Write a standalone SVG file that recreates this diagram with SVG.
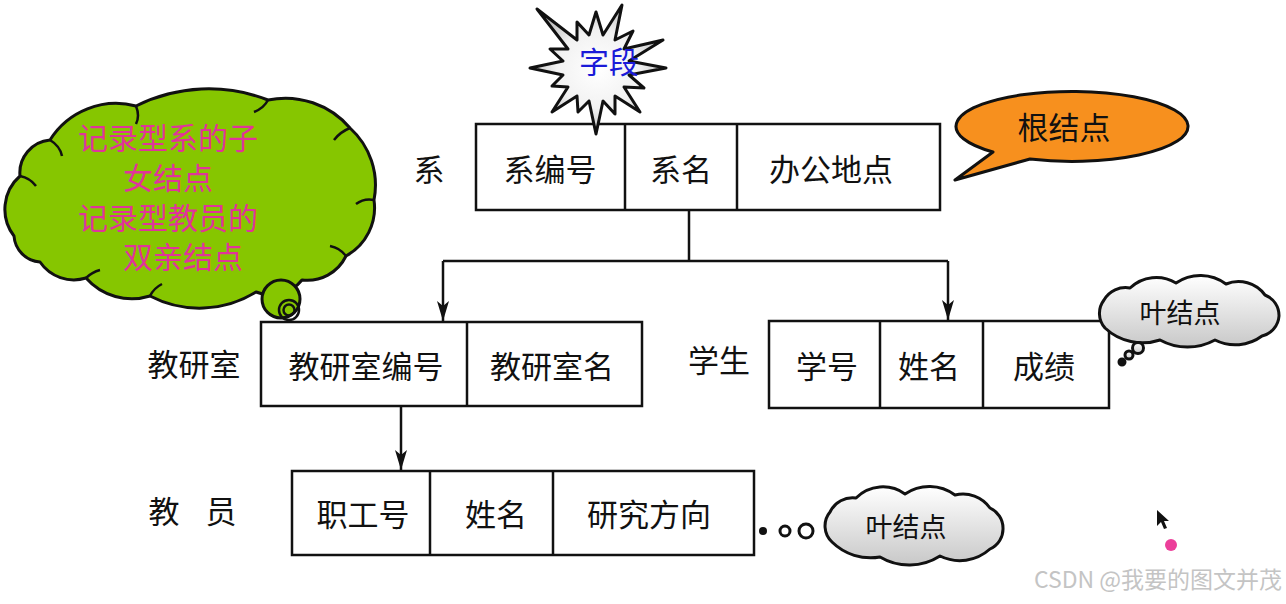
<svg xmlns="http://www.w3.org/2000/svg" width="1286" height="604" viewBox="0 0 1286 604">
<style>
.box{fill:#fff;stroke:#111;stroke-width:2.5}
.div{stroke:#111;stroke-width:2.5}
.t{font-family:"Noto Sans CJK SC","Noto Sans",sans-serif;font-size:31px;fill:#111;text-anchor:middle}
.g{font-family:"Noto Sans CJK SC","Noto Sans",sans-serif;font-size:30px;fill:#e0349a;text-anchor:middle}
.leaf{font-family:"Noto Sans CJK SC","Noto Sans",sans-serif;font-size:27px;fill:#111;text-anchor:middle}
.cl{stroke:#111;stroke-width:3;stroke-linejoin:round}
.conn{fill:none;stroke:#111;stroke-width:2.5}
</style>
<defs>
<marker id="arr" viewBox="0 0 20 12" refX="20" refY="6" markerWidth="20" markerHeight="12" markerUnits="userSpaceOnUse" orient="auto">
<path d="M0,0 L20,6 L0,12 L5,6 Z" fill="#111"/>
</marker>
<radialGradient id="star" cx="0.5" cy="0.5" r="0.6">
<stop offset="0" stop-color="#ffffff"/><stop offset="0.5" stop-color="#f2f2f2"/><stop offset="1" stop-color="#a8a8a8"/>
</radialGradient>
<linearGradient id="cloudg" x1="0" y1="0" x2="0" y2="1">
<stop offset="0" stop-color="#ffffff"/><stop offset="1" stop-color="#c8c8c8"/>
</linearGradient>
</defs>
<rect width="1286" height="604" fill="#fff"/>

<g id="connectors">
<path class="conn" d="M689,210 V261 M443,261 H948"/>
<path class="conn" d="M443,261 V321" marker-end="url(#arr)"/>
<path class="conn" d="M948,261 V320" marker-end="url(#arr)"/>
<path class="conn" d="M401,406 V470" marker-end="url(#arr)"/>
</g>

<g id="node-xi">
<text class="t" x="429" y="181">系</text>
<rect class="box" x="476" y="124" width="464" height="86"/>
<line class="div" x1="625" y1="124" x2="625" y2="210"/>
<line class="div" x1="737" y1="124" x2="737" y2="210"/>
<text class="t" x="550" y="181">系编号</text>
<text class="t" x="681" y="181">系名</text>
<text class="t" x="831" y="181">办公地点</text>
</g>

<g id="node-jiaoyanshi">
<text class="t" x="194" y="376">教研室</text>
<rect class="box" x="261" y="322" width="381" height="84"/>
<line class="div" x1="467" y1="322" x2="467" y2="406"/>
<text class="t" x="366" y="378">教研室编号</text>
<text class="t" x="552" y="378">教研室名</text>
</g>

<g id="node-xuesheng">
<text class="t" x="719" y="372">学生</text>
<rect class="box" x="769" y="321" width="340" height="87"/>
<line class="div" x1="880" y1="321" x2="880" y2="408"/>
<line class="div" x1="983" y1="321" x2="983" y2="408"/>
<text class="t" x="827" y="378">学号</text>
<text class="t" x="929" y="378">姓名</text>
<text class="t" x="1044" y="378">成绩</text>
</g>

<g id="node-jiaoyuan">
<text class="t" x="164" y="523">教</text>
<text class="t" x="221" y="523">员</text>
<rect class="box" x="292" y="471" width="462" height="84"/>
<line class="div" x1="430" y1="471" x2="430" y2="555"/>
<line class="div" x1="553" y1="471" x2="553" y2="555"/>
<text class="t" x="363" y="526">职工号</text>
<text class="t" x="496" y="526">姓名</text>
<text class="t" x="649" y="526">研究方向</text>
</g>

<g id="callout-ziduan">
<polygon class="cl" fill="url(#star)" points="666,68 629,75 644,88 624,87 640,112 615,96 615,114 603,101 596,134 589,101 578,112 577,96 552,112 568,87 552,86 563,75 530,68 563,61 550,49 568,49 537,9 577,40 577,22 589,35 596,12 603,35 622,5 615,40 633,31 624,49 663,40 629,61"/>
<text x="609" y="73" font-family="Noto Sans CJK SC, sans-serif" font-size="30" fill="#1a1ad8" text-anchor="middle">字段</text>
</g>

<g id="callout-green">
<path class="cl" fill="#86c600" d="M14,236 A44,44 0 0 1 20,176 A33,33 0 0 1 50,140 A78,78 0 0 1 136,106 A163,163 0 0 1 268,100 A85,85 0 0 1 350,128 A77,77 0 0 1 374,200 A55,55 0 0 1 346,256 A43,43 0 0 1 302,280 A40,40 0 0 1 256,292 A107,107 0 0 1 150,296 A61,61 0 0 1 86,278 A41,41 0 0 1 40,262 A28,28 0 0 1 14,236 Z"/>
<path d="M50,140 q10,6 12,16 M136,106 q4,10 0,18 M268,100 q-4,8 -14,12 M350,128 q-10,4 -16,12 M374,200 q-10,-2 -18,4 M346,256 q-6,-8 -16,-10 M150,296 q4,-8 12,-12 M86,278 q6,-6 14,-8 M20,176 q10,2 16,10" fill="none" stroke="#111" stroke-width="2.5"/>
<circle class="cl" fill="#86c600" cx="281" cy="299" r="19"/>
<circle cx="289" cy="310" r="10" fill="none" stroke="#111" stroke-width="2.5"/>
<circle cx="289" cy="310" r="5.5" fill="none" stroke="#111" stroke-width="2.5"/>
<text class="g"><tspan x="168" y="149">记录型系的子</tspan><tspan x="168" y="189">女结点</tspan><tspan x="168" y="229">记录型教员的</tspan><tspan x="183" y="268">双亲结点</tspan></text>
</g>

<g id="callout-root">
<path class="cl" fill="#f7901e" d="M1030,159 A116,35 0 1 0 993,152 L955,180 Z"/>
<text class="t" x="1064" y="139">根结点</text>
</g>

<g id="callout-leaf1">
<path class="cl" fill="url(#cloudg)" d="M1105,328 A22,22 0 0 1 1104,300 A25,25 0 0 1 1130,288 A38,38 0 0 1 1176,283 A43,43 0 0 1 1226,284 A33,33 0 0 1 1265,295 A22,22 0 0 1 1279,316 A22,22 0 0 1 1262,336 A45,45 0 0 1 1215,340 A57,57 0 0 1 1160,340 A55,55 0 0 1 1105,328 Z"/>
<circle class="cl" fill="url(#cloudg)" cx="1138" cy="348" r="5.5" stroke-width="2.5"/>
<circle class="cl" fill="url(#cloudg)" cx="1129" cy="355" r="4" stroke-width="2.5"/>
<circle class="cl" fill="#111" cx="1122" cy="362" r="3" stroke-width="1.5"/>
<text class="leaf" x="1180" y="323">叶结点</text>
</g>

<g id="callout-leaf2">
<circle cx="763" cy="531" r="4" fill="#111"/>
<circle cx="785" cy="531" r="5" fill="#fff" stroke="#111" stroke-width="3"/>
<circle cx="806" cy="531" r="7" fill="#fff" stroke="#111" stroke-width="3"/>
<path class="cl" fill="url(#cloudg)" d="M832,542 A22,22 0 0 1 830,512 A25,25 0 0 1 856,498 A38,38 0 0 1 905,494 A43,43 0 0 1 955,495 A33,33 0 0 1 990,508 A22,22 0 0 1 1003,528 A22,22 0 0 1 990,549 A45,45 0 0 1 940,556 A57,57 0 0 1 880,557 A55,55 0 0 1 832,542 Z"/>
<text class="leaf" x="906" y="537">叶结点</text>
</g>

<g id="cursor">
<polygon points="1157,510 1157,526 1161,522 1164,529 1167,528 1164,521 1169,521" fill="#111"/>
<circle cx="1171" cy="545" r="6" fill="#ec3f9a"/>
</g>

<text x="1282" y="588" font-family="Noto Sans CJK SC, sans-serif" font-size="23" fill="#c4c4c4" text-anchor="end">CSDN @我要的图文并茂</text>
</svg>
